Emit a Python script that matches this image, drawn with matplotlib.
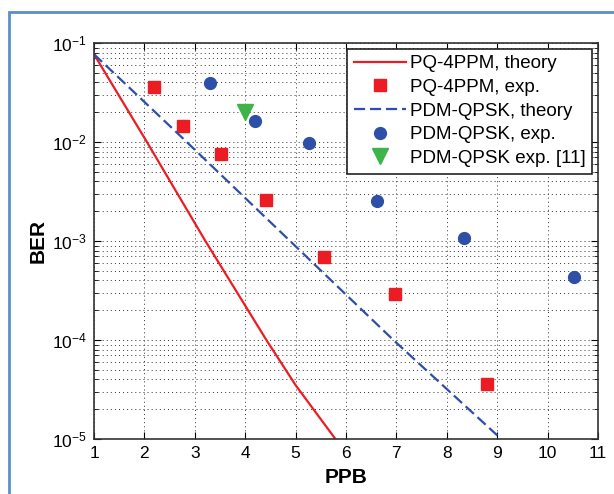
#!/usr/bin/env python3
# -*- coding: utf-8 -*-

import numpy as np
import matplotlib
matplotlib.use("Agg")
import matplotlib.pyplot as plt
from matplotlib.patches import Rectangle

plt.rcParams["font.family"] = ["Liberation Sans", "DejaVu Sans"]
plt.rcParams["mathtext.fontset"] = "custom"
plt.rcParams["mathtext.rm"] = "Liberation Sans"
plt.rcParams["mathtext.default"] = "regular"

# theory curves
pq_theory_ppb = [1.0, 2.05, 3.21, 4.42, 5.0, 5.79]
pq_theory_ber = [7.7e-2, 1e-2, 1e-3, 1e-4, 3.5e-5, 1e-5]
qpsk_theory_ppb = [1.0, 2.84, 4.89, 6.94, 9.08]
qpsk_theory_ber = [7.7e-2, 1e-2, 1e-3, 1e-4, 1e-5]

# measurements
pq_exp_ppb = [2.20, 2.77, 3.51, 4.42, 5.56, 6.98, 8.80]
pq_exp_ber = [3.6e-2, 1.46e-2, 7.6e-3, 2.6e-3, 6.9e-4, 2.9e-4, 3.6e-5]
qpsk_exp_ppb = [3.31, 4.19, 5.27, 6.62, 8.34, 10.52]
qpsk_exp_ber = [3.9e-2, 1.64e-2, 9.8e-3, 2.55e-3, 1.06e-3, 4.3e-4]
ref_ppb = [4.0]
ref_ber = [2.02e-2]

red = "#ec1c24"
blue = "#2e4fa8"
green = "#3cb44a"

fig = plt.figure(figsize=(6.14, 4.94), dpi=100)
ax = fig.add_axes([94 / 614, 55 / 494, 504 / 614, 396 / 494])

ax.semilogy(pq_theory_ppb, pq_theory_ber, "-", color=red, lw=1.6, label="PQ-4PPM, theory")
ax.semilogy(pq_exp_ppb, pq_exp_ber, "s", color=red, ms=9, label="PQ-4PPM, exp.")
ax.semilogy(qpsk_theory_ppb, qpsk_theory_ber, "--", color=blue, lw=1.6,
            dashes=(5, 2.2), label="PDM-QPSK, theory")
ax.semilogy(qpsk_exp_ppb, qpsk_exp_ber, "o", color=blue, ms=8.5, label="PDM-QPSK, exp.")
ax.semilogy(ref_ppb, ref_ber, "v", color=green, ms=11, label="PDM-QPSK exp. [11]")

ax.set_xlim(1, 11)
ax.set_ylim(1e-5, 1e-1)
ax.set_xticks(np.arange(1, 12))
ax.grid(True, which="major", color="#333333", lw=0.7, dashes=(1, 3.2))
ax.grid(True, which="minor", axis="y", color="#333333", lw=0.7, dashes=(1, 3.2))
ax.tick_params(which="both", direction="in", top=True, right=True, labelsize=12.5, pad=5)
ax.tick_params(which="major", length=5)
ax.tick_params(which="minor", length=3)
for s in ax.spines.values():
    s.set_color("#333333")
    s.set_linewidth(1.2)

ax.set_xlabel("PPB", fontsize=15, fontweight="bold", labelpad=5)
ax.set_ylabel("BER", fontsize=15, fontweight="bold", labelpad=3)

leg = ax.legend(loc="upper right", fontsize=13.5, handlelength=2.8, handletextpad=0.2,
                labelspacing=0.35, borderpad=0.35, borderaxespad=0.3,
                fancybox=False, framealpha=1, edgecolor="#222222")
leg.get_frame().set_linewidth(1.2)

# outer blue frame of the figure box
fig.patches.append(Rectangle((9 / 614, -0.5), 3, 1.5 - 12 / 494,
                             transform=fig.transFigure, fill=False,
                             edgecolor="#5b8fc9", lw=2))

fig.savefig("out.png", dpi=100)
